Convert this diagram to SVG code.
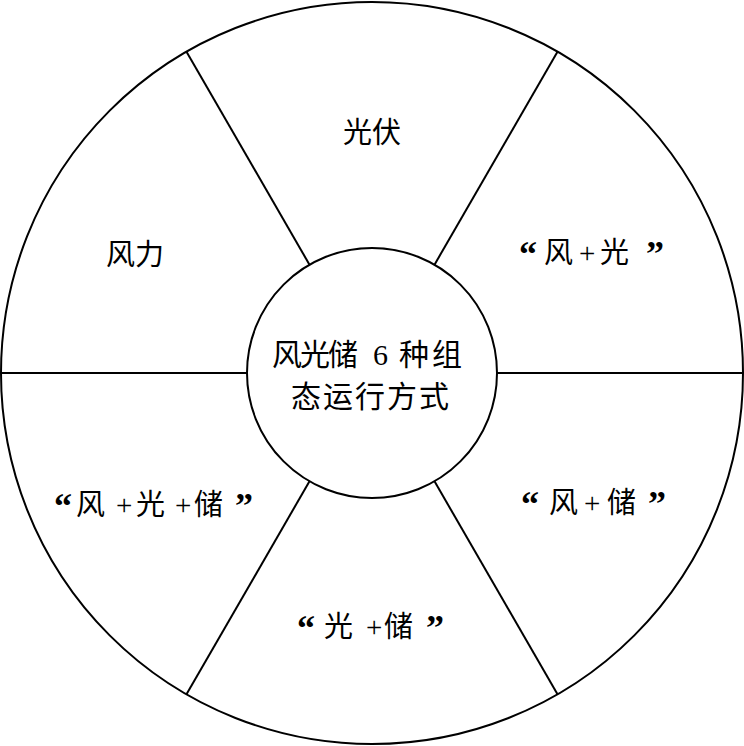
<svg xmlns="http://www.w3.org/2000/svg" width="744" height="746" viewBox="0 0 744 746">
<style>
.ln{stroke:#000;stroke-width:2;fill:none}
.t{font-family:"Liberation Serif","Noto Sans CJK SC",serif;font-size:29px;fill:#000}
.m{text-anchor:middle}
.c{font-size:30px}
.q{font-size:36px;font-weight:bold}
</style>
<rect width="744" height="746" fill="#fff"/>
<g id="connectors">
<line class="ln" x1="2" y1="373" x2="247" y2="373"/>
<line class="ln" x1="497" y1="373" x2="742" y2="373"/>
<line class="ln" x1="186.5" y1="51.7" x2="309.5" y2="264.7"/>
<line class="ln" x1="557.5" y1="51.7" x2="434.5" y2="264.7"/>
<line class="ln" x1="186.5" y1="694.3" x2="309.5" y2="481.3"/>
<line class="ln" x1="557.5" y1="694.3" x2="434.5" y2="481.3"/>
</g>
<g id="outer"><circle class="ln" cx="372" cy="373" r="371"/></g>
<g id="center"><circle class="ln" cx="372" cy="373" r="125"/>
<text class="t c" x="272 300 328 373 399 432" y="365">风光储6种组</text>
<text class="t c" x="291 323 355 387 419" y="407">态运行方式</text></g>
<g id="pv"><text class="t m" x="372" y="143">光伏</text></g>
<g id="wind"><text class="t m" x="135" y="265">风力</text></g>
<g id="wind-pv"><text class="t q" x="519" y="266">“</text><text class="t" x="544 579 600" y="263">风+光</text><text class="t q" x="646" y="266">”</text></g>
<g id="wind-storage"><text class="t q" x="521" y="516">“</text><text class="t" x="549 584 607" y="513">风+储</text><text class="t q" x="648" y="516">”</text></g>
<g id="pv-storage"><text class="t q" x="297" y="640">“</text><text class="t" x="324 366 384" y="637">光+储</text><text class="t q" x="426" y="640">”</text></g>
<g id="wind-pv-storage"><text class="t q" x="54" y="518">“</text><text class="t" x="76 116 136 175 194" y="515">风+光+储</text><text class="t q" x="235" y="518">”</text></g>
</svg>
